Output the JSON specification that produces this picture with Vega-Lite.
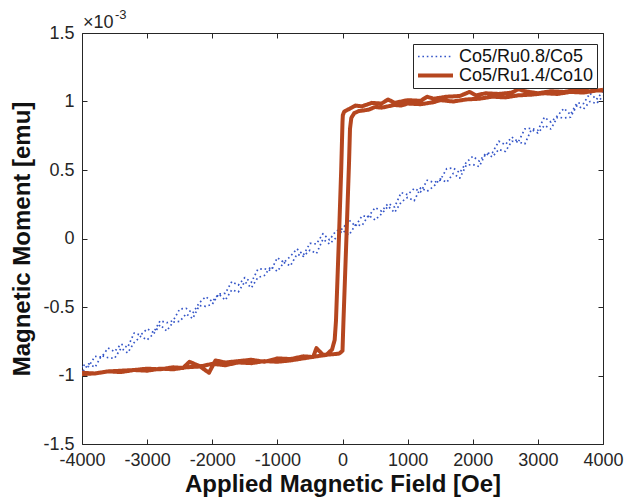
{
  "$schema": "https://vega.github.io/schema/vega-lite/v6.json",
  "width": 521,
  "height": 411,
  "autosize": "none",
  "padding": {"left": 82, "top": 33, "right": 33, "bottom": 56},
  "background": "white",
  "config": {
    "font": "Liberation Sans",
    "view": {"stroke": "#262626", "strokeWidth": 1},
    "axis": {"grid": false, "domain": false, "tickColor": "#262626", "tickSize": 5, "offset": -5, "tickWidth": 1, "labelFlush": false, "labelOverlap": false, "labelColor": "#262626", "labelFont": "Liberation Sans", "labelFontSize": 18, "titleFont": "Liberation Sans", "titleFontSize": 24, "titleFontWeight": "bold", "titleColor": "#111111"},
    "legend": {"orient": "none", "legendX": 331, "legendY": 11, "strokeColor": "#262626", "fillColor": "white", "padding": 3, "labelFontSize": 18, "labelColor": "#111111", "labelFont": "Liberation Sans", "labelOffset": 4, "symbolType": "stroke", "symbolSize": 1225, "clipHeight": 19, "rowPadding": 0}
  },
  "datasets": {
    "d": [
      {"s":"Co5/Ru0.8/Co5","x":4000,"y":1.075},{"s":"Co5/Ru0.8/Co5","x":3900,"y":1.015},{"s":"Co5/Ru0.8/Co5","x":3800,"y":1.06},{"s":"Co5/Ru0.8/Co5","x":3700,"y":0.985},{"s":"Co5/Ru0.8/Co5","x":3600,"y":0.99},{"s":"Co5/Ru0.8/Co5","x":3500,"y":0.905},{"s":"Co5/Ru0.8/Co5","x":3400,"y":0.95},{"s":"Co5/Ru0.8/Co5","x":3300,"y":0.895},{"s":"Co5/Ru0.8/Co5","x":3200,"y":0.85},{"s":"Co5/Ru0.8/Co5","x":3100,"y":0.885},{"s":"Co5/Ru0.8/Co5","x":3000,"y":0.79},{"s":"Co5/Ru0.8/Co5","x":2900,"y":0.805},{"s":"Co5/Ru0.8/Co5","x":2800,"y":0.8},{"s":"Co5/Ru0.8/Co5","x":2700,"y":0.705},{"s":"Co5/Ru0.8/Co5","x":2600,"y":0.74},{"s":"Co5/Ru0.8/Co5","x":2500,"y":0.685},{"s":"Co5/Ru0.8/Co5","x":2400,"y":0.71},{"s":"Co5/Ru0.8/Co5","x":2300,"y":0.625},{"s":"Co5/Ru0.8/Co5","x":2200,"y":0.62},{"s":"Co5/Ru0.8/Co5","x":2100,"y":0.565},{"s":"Co5/Ru0.8/Co5","x":2000,"y":0.6},{"s":"Co5/Ru0.8/Co5","x":1900,"y":0.555},{"s":"Co5/Ru0.8/Co5","x":1800,"y":0.48},{"s":"Co5/Ru0.8/Co5","x":1700,"y":0.515},{"s":"Co5/Ru0.8/Co5","x":1600,"y":0.51},{"s":"Co5/Ru0.8/Co5","x":1500,"y":0.425},{"s":"Co5/Ru0.8/Co5","x":1400,"y":0.41},{"s":"Co5/Ru0.8/Co5","x":1300,"y":0.425},{"s":"Co5/Ru0.8/Co5","x":1200,"y":0.34},{"s":"Co5/Ru0.8/Co5","x":1100,"y":0.365},{"s":"Co5/Ru0.8/Co5","x":1000,"y":0.32},{"s":"Co5/Ru0.8/Co5","x":900,"y":0.335},{"s":"Co5/Ru0.8/Co5","x":800,"y":0.23},{"s":"Co5/Ru0.8/Co5","x":700,"y":0.255},{"s":"Co5/Ru0.8/Co5","x":600,"y":0.2},{"s":"Co5/Ru0.8/Co5","x":500,"y":0.225},{"s":"Co5/Ru0.8/Co5","x":400,"y":0.16},{"s":"Co5/Ru0.8/Co5","x":300,"y":0.165},{"s":"Co5/Ru0.8/Co5","x":200,"y":0.09},{"s":"Co5/Ru0.8/Co5","x":100,"y":0.135},{"s":"Co5/Ru0.8/Co5","x":0,"y":0.07},{"s":"Co5/Ru0.8/Co5","x":-100,"y":0.055},{"s":"Co5/Ru0.8/Co5","x":-200,"y":-0.01},{"s":"Co5/Ru0.8/Co5","x":-300,"y":0.035},{"s":"Co5/Ru0.8/Co5","x":-400,"y":-0.04},{"s":"Co5/Ru0.8/Co5","x":-500,"y":-0.035},{"s":"Co5/Ru0.8/Co5","x":-600,"y":-0.12},{"s":"Co5/Ru0.8/Co5","x":-700,"y":-0.075},{"s":"Co5/Ru0.8/Co5","x":-800,"y":-0.13},{"s":"Co5/Ru0.8/Co5","x":-900,"y":-0.175},{"s":"Co5/Ru0.8/Co5","x":-1000,"y":-0.14},{"s":"Co5/Ru0.8/Co5","x":-1100,"y":-0.235},{"s":"Co5/Ru0.8/Co5","x":-1200,"y":-0.22},{"s":"Co5/Ru0.8/Co5","x":-1300,"y":-0.225},{"s":"Co5/Ru0.8/Co5","x":-1400,"y":-0.32},{"s":"Co5/Ru0.8/Co5","x":-1500,"y":-0.285},{"s":"Co5/Ru0.8/Co5","x":-1600,"y":-0.34},{"s":"Co5/Ru0.8/Co5","x":-1700,"y":-0.315},{"s":"Co5/Ru0.8/Co5","x":-1800,"y":-0.4},{"s":"Co5/Ru0.8/Co5","x":-1900,"y":-0.405},{"s":"Co5/Ru0.8/Co5","x":-2000,"y":-0.46},{"s":"Co5/Ru0.8/Co5","x":-2100,"y":-0.425},{"s":"Co5/Ru0.8/Co5","x":-2200,"y":-0.47},{"s":"Co5/Ru0.8/Co5","x":-2300,"y":-0.545},{"s":"Co5/Ru0.8/Co5","x":-2400,"y":-0.51},{"s":"Co5/Ru0.8/Co5","x":-2500,"y":-0.515},{"s":"Co5/Ru0.8/Co5","x":-2600,"y":-0.6},{"s":"Co5/Ru0.8/Co5","x":-2700,"y":-0.615},{"s":"Co5/Ru0.8/Co5","x":-2800,"y":-0.6},{"s":"Co5/Ru0.8/Co5","x":-2900,"y":-0.685},{"s":"Co5/Ru0.8/Co5","x":-3000,"y":-0.66},{"s":"Co5/Ru0.8/Co5","x":-3100,"y":-0.705},{"s":"Co5/Ru0.8/Co5","x":-3200,"y":-0.69},{"s":"Co5/Ru0.8/Co5","x":-3300,"y":-0.795},{"s":"Co5/Ru0.8/Co5","x":-3400,"y":-0.77},{"s":"Co5/Ru0.8/Co5","x":-3500,"y":-0.825},{"s":"Co5/Ru0.8/Co5","x":-3600,"y":-0.8},{"s":"Co5/Ru0.8/Co5","x":-3700,"y":-0.865},{"s":"Co5/Ru0.8/Co5","x":-3800,"y":-0.86},{"s":"Co5/Ru0.8/Co5","x":-3900,"y":-0.935},{"s":"Co5/Ru0.8/Co5","x":-4000,"y":-0.92},
      {"s":"Co5/Ru0.8/Co5","x":-4000,"y":-0.98},{"s":"Co5/Ru0.8/Co5","x":-3900,"y":-0.915},{"s":"Co5/Ru0.8/Co5","x":-3800,"y":-0.94},{"s":"Co5/Ru0.8/Co5","x":-3700,"y":-0.855},{"s":"Co5/Ru0.8/Co5","x":-3600,"y":-0.87},{"s":"Co5/Ru0.8/Co5","x":-3500,"y":-0.875},{"s":"Co5/Ru0.8/Co5","x":-3400,"y":-0.8},{"s":"Co5/Ru0.8/Co5","x":-3300,"y":-0.835},{"s":"Co5/Ru0.8/Co5","x":-3200,"y":-0.76},{"s":"Co5/Ru0.8/Co5","x":-3100,"y":-0.715},{"s":"Co5/Ru0.8/Co5","x":-3000,"y":-0.74},{"s":"Co5/Ru0.8/Co5","x":-2900,"y":-0.695},{"s":"Co5/Ru0.8/Co5","x":-2800,"y":-0.63},{"s":"Co5/Ru0.8/Co5","x":-2700,"y":-0.675},{"s":"Co5/Ru0.8/Co5","x":-2600,"y":-0.61},{"s":"Co5/Ru0.8/Co5","x":-2500,"y":-0.605},{"s":"Co5/Ru0.8/Co5","x":-2400,"y":-0.55},{"s":"Co5/Ru0.8/Co5","x":-2300,"y":-0.585},{"s":"Co5/Ru0.8/Co5","x":-2200,"y":-0.49},{"s":"Co5/Ru0.8/Co5","x":-2100,"y":-0.495},{"s":"Co5/Ru0.8/Co5","x":-2000,"y":-0.48},{"s":"Co5/Ru0.8/Co5","x":-1900,"y":-0.405},{"s":"Co5/Ru0.8/Co5","x":-1800,"y":-0.45},{"s":"Co5/Ru0.8/Co5","x":-1700,"y":-0.375},{"s":"Co5/Ru0.8/Co5","x":-1600,"y":-0.39},{"s":"Co5/Ru0.8/Co5","x":-1500,"y":-0.315},{"s":"Co5/Ru0.8/Co5","x":-1400,"y":-0.36},{"s":"Co5/Ru0.8/Co5","x":-1300,"y":-0.285},{"s":"Co5/Ru0.8/Co5","x":-1200,"y":-0.27},{"s":"Co5/Ru0.8/Co5","x":-1100,"y":-0.205},{"s":"Co5/Ru0.8/Co5","x":-1000,"y":-0.24},{"s":"Co5/Ru0.8/Co5","x":-900,"y":-0.175},{"s":"Co5/Ru0.8/Co5","x":-800,"y":-0.2},{"s":"Co5/Ru0.8/Co5","x":-700,"y":-0.115},{"s":"Co5/Ru0.8/Co5","x":-600,"y":-0.13},{"s":"Co5/Ru0.8/Co5","x":-500,"y":-0.085},{"s":"Co5/Ru0.8/Co5","x":-400,"y":-0.11},{"s":"Co5/Ru0.8/Co5","x":-300,"y":-0.005},{"s":"Co5/Ru0.8/Co5","x":-200,"y":-0.04},{"s":"Co5/Ru0.8/Co5","x":-100,"y":0.005},{"s":"Co5/Ru0.8/Co5","x":0,"y":0.06},{"s":"Co5/Ru0.8/Co5","x":100,"y":0.025},{"s":"Co5/Ru0.8/Co5","x":200,"y":0.1},{"s":"Co5/Ru0.8/Co5","x":300,"y":0.095},{"s":"Co5/Ru0.8/Co5","x":400,"y":0.17},{"s":"Co5/Ru0.8/Co5","x":500,"y":0.135},{"s":"Co5/Ru0.8/Co5","x":600,"y":0.18},{"s":"Co5/Ru0.8/Co5","x":700,"y":0.235},{"s":"Co5/Ru0.8/Co5","x":800,"y":0.19},{"s":"Co5/Ru0.8/Co5","x":900,"y":0.265},{"s":"Co5/Ru0.8/Co5","x":1000,"y":0.3},{"s":"Co5/Ru0.8/Co5","x":1100,"y":0.275},{"s":"Co5/Ru0.8/Co5","x":1200,"y":0.37},{"s":"Co5/Ru0.8/Co5","x":1300,"y":0.345},{"s":"Co5/Ru0.8/Co5","x":1400,"y":0.38},{"s":"Co5/Ru0.8/Co5","x":1500,"y":0.435},{"s":"Co5/Ru0.8/Co5","x":1600,"y":0.41},{"s":"Co5/Ru0.8/Co5","x":1700,"y":0.475},{"s":"Co5/Ru0.8/Co5","x":1800,"y":0.44},{"s":"Co5/Ru0.8/Co5","x":1900,"y":0.535},{"s":"Co5/Ru0.8/Co5","x":2000,"y":0.54},{"s":"Co5/Ru0.8/Co5","x":2100,"y":0.525},{"s":"Co5/Ru0.8/Co5","x":2200,"y":0.62},{"s":"Co5/Ru0.8/Co5","x":2300,"y":0.595},{"s":"Co5/Ru0.8/Co5","x":2400,"y":0.65},{"s":"Co5/Ru0.8/Co5","x":2500,"y":0.635},{"s":"Co5/Ru0.8/Co5","x":2600,"y":0.71},{"s":"Co5/Ru0.8/Co5","x":2700,"y":0.705},{"s":"Co5/Ru0.8/Co5","x":2800,"y":0.69},{"s":"Co5/Ru0.8/Co5","x":2900,"y":0.795},{"s":"Co5/Ru0.8/Co5","x":3000,"y":0.77},{"s":"Co5/Ru0.8/Co5","x":3100,"y":0.825},{"s":"Co5/Ru0.8/Co5","x":3200,"y":0.8},{"s":"Co5/Ru0.8/Co5","x":3300,"y":0.885},{"s":"Co5/Ru0.8/Co5","x":3400,"y":0.88},{"s":"Co5/Ru0.8/Co5","x":3500,"y":0.885},{"s":"Co5/Ru0.8/Co5","x":3600,"y":0.97},{"s":"Co5/Ru0.8/Co5","x":3700,"y":0.945},{"s":"Co5/Ru0.8/Co5","x":3800,"y":1.0},{"s":"Co5/Ru0.8/Co5","x":3900,"y":0.985},{"s":"Co5/Ru0.8/Co5","x":4000,"y":1.04},
      {"s":"Co5/Ru1.4/Co10","x":4000,"y":1.085},{"s":"Co5/Ru1.4/Co10","x":3800,"y":1.075},{"s":"Co5/Ru1.4/Co10","x":3600,"y":1.085},{"s":"Co5/Ru1.4/Co10","x":3400,"y":1.07},{"s":"Co5/Ru1.4/Co10","x":3200,"y":1.075},{"s":"Co5/Ru1.4/Co10","x":3000,"y":1.06},{"s":"Co5/Ru1.4/Co10","x":2800,"y":1.075},{"s":"Co5/Ru1.4/Co10","x":2700,"y":1.09},{"s":"Co5/Ru1.4/Co10","x":2600,"y":1.065},{"s":"Co5/Ru1.4/Co10","x":2400,"y":1.055},{"s":"Co5/Ru1.4/Co10","x":2200,"y":1.06},{"s":"Co5/Ru1.4/Co10","x":2050,"y":1.045},{"s":"Co5/Ru1.4/Co10","x":1950,"y":1.07},{"s":"Co5/Ru1.4/Co10","x":1800,"y":1.04},{"s":"Co5/Ru1.4/Co10","x":1600,"y":1.035},{"s":"Co5/Ru1.4/Co10","x":1400,"y":1.02},{"s":"Co5/Ru1.4/Co10","x":1300,"y":1.035},{"s":"Co5/Ru1.4/Co10","x":1200,"y":1.005},{"s":"Co5/Ru1.4/Co10","x":1000,"y":1.01},{"s":"Co5/Ru1.4/Co10","x":800,"y":0.99},{"s":"Co5/Ru1.4/Co10","x":700,"y":1.015},{"s":"Co5/Ru1.4/Co10","x":600,"y":0.985},{"s":"Co5/Ru1.4/Co10","x":450,"y":0.99},{"s":"Co5/Ru1.4/Co10","x":300,"y":0.965},{"s":"Co5/Ru1.4/Co10","x":200,"y":0.97},{"s":"Co5/Ru1.4/Co10","x":120,"y":0.95},{"s":"Co5/Ru1.4/Co10","x":60,"y":0.935},{"s":"Co5/Ru1.4/Co10","x":25,"y":0.925},{"s":"Co5/Ru1.4/Co10","x":5,"y":0.9},{"s":"Co5/Ru1.4/Co10","x":0,"y":0.85},{"s":"Co5/Ru1.4/Co10","x":-20,"y":0.5},{"s":"Co5/Ru1.4/Co10","x":-55,"y":0.0},{"s":"Co5/Ru1.4/Co10","x":-100,"y":-0.6},{"s":"Co5/Ru1.4/Co10","x":-120,"y":-0.74},{"s":"Co5/Ru1.4/Co10","x":-160,"y":-0.81},{"s":"Co5/Ru1.4/Co10","x":-250,"y":-0.85},{"s":"Co5/Ru1.4/Co10","x":-400,"y":-0.86},{"s":"Co5/Ru1.4/Co10","x":-600,"y":-0.875},{"s":"Co5/Ru1.4/Co10","x":-800,"y":-0.89},{"s":"Co5/Ru1.4/Co10","x":-1000,"y":-0.9},{"s":"Co5/Ru1.4/Co10","x":-1200,"y":-0.895},{"s":"Co5/Ru1.4/Co10","x":-1400,"y":-0.91},{"s":"Co5/Ru1.4/Co10","x":-1600,"y":-0.905},{"s":"Co5/Ru1.4/Co10","x":-1800,"y":-0.925},{"s":"Co5/Ru1.4/Co10","x":-2000,"y":-0.915},{"s":"Co5/Ru1.4/Co10","x":-2200,"y":-0.935},{"s":"Co5/Ru1.4/Co10","x":-2400,"y":-0.94},{"s":"Co5/Ru1.4/Co10","x":-2600,"y":-0.955},{"s":"Co5/Ru1.4/Co10","x":-2800,"y":-0.95},{"s":"Co5/Ru1.4/Co10","x":-3000,"y":-0.965},{"s":"Co5/Ru1.4/Co10","x":-3200,"y":-0.96},{"s":"Co5/Ru1.4/Co10","x":-3400,"y":-0.975},{"s":"Co5/Ru1.4/Co10","x":-3600,"y":-0.97},{"s":"Co5/Ru1.4/Co10","x":-3800,"y":-0.985},{"s":"Co5/Ru1.4/Co10","x":-4000,"y":-0.99},
      {"s":"Co5/Ru1.4/Co10","x":-4000,"y":-0.98},{"s":"Co5/Ru1.4/Co10","x":-3800,"y":-0.985},{"s":"Co5/Ru1.4/Co10","x":-3600,"y":-0.97},{"s":"Co5/Ru1.4/Co10","x":-3400,"y":-0.965},{"s":"Co5/Ru1.4/Co10","x":-3200,"y":-0.96},{"s":"Co5/Ru1.4/Co10","x":-3000,"y":-0.95},{"s":"Co5/Ru1.4/Co10","x":-2800,"y":-0.955},{"s":"Co5/Ru1.4/Co10","x":-2600,"y":-0.94},{"s":"Co5/Ru1.4/Co10","x":-2450,"y":-0.945},{"s":"Co5/Ru1.4/Co10","x":-2350,"y":-0.9},{"s":"Co5/Ru1.4/Co10","x":-2200,"y":-0.93},{"s":"Co5/Ru1.4/Co10","x":-2050,"y":-0.98},{"s":"Co5/Ru1.4/Co10","x":-1950,"y":-0.89},{"s":"Co5/Ru1.4/Co10","x":-1800,"y":-0.905},{"s":"Co5/Ru1.4/Co10","x":-1600,"y":-0.895},{"s":"Co5/Ru1.4/Co10","x":-1400,"y":-0.885},{"s":"Co5/Ru1.4/Co10","x":-1200,"y":-0.9},{"s":"Co5/Ru1.4/Co10","x":-1000,"y":-0.875},{"s":"Co5/Ru1.4/Co10","x":-800,"y":-0.88},{"s":"Co5/Ru1.4/Co10","x":-600,"y":-0.86},{"s":"Co5/Ru1.4/Co10","x":-450,"y":-0.865},{"s":"Co5/Ru1.4/Co10","x":-400,"y":-0.8},{"s":"Co5/Ru1.4/Co10","x":-300,"y":-0.85},{"s":"Co5/Ru1.4/Co10","x":-150,"y":-0.845},{"s":"Co5/Ru1.4/Co10","x":-50,"y":-0.84},{"s":"Co5/Ru1.4/Co10","x":0,"y":-0.82},{"s":"Co5/Ru1.4/Co10","x":8,"y":-0.7},{"s":"Co5/Ru1.4/Co10","x":15,"y":-0.6},{"s":"Co5/Ru1.4/Co10","x":60,"y":0.0},{"s":"Co5/Ru1.4/Co10","x":100,"y":0.55},{"s":"Co5/Ru1.4/Co10","x":115,"y":0.8},{"s":"Co5/Ru1.4/Co10","x":135,"y":0.88},{"s":"Co5/Ru1.4/Co10","x":180,"y":0.915},{"s":"Co5/Ru1.4/Co10","x":250,"y":0.93},{"s":"Co5/Ru1.4/Co10","x":400,"y":0.94},{"s":"Co5/Ru1.4/Co10","x":500,"y":0.96},{"s":"Co5/Ru1.4/Co10","x":600,"y":0.955},{"s":"Co5/Ru1.4/Co10","x":800,"y":0.975},{"s":"Co5/Ru1.4/Co10","x":900,"y":0.97},{"s":"Co5/Ru1.4/Co10","x":1000,"y":0.985},{"s":"Co5/Ru1.4/Co10","x":1200,"y":0.98},{"s":"Co5/Ru1.4/Co10","x":1400,"y":0.995},{"s":"Co5/Ru1.4/Co10","x":1500,"y":1.01},{"s":"Co5/Ru1.4/Co10","x":1700,"y":1.0},{"s":"Co5/Ru1.4/Co10","x":1900,"y":1.015},{"s":"Co5/Ru1.4/Co10","x":2100,"y":1.02},{"s":"Co5/Ru1.4/Co10","x":2300,"y":1.035},{"s":"Co5/Ru1.4/Co10","x":2500,"y":1.03},{"s":"Co5/Ru1.4/Co10","x":2700,"y":1.045},{"s":"Co5/Ru1.4/Co10","x":2900,"y":1.05},{"s":"Co5/Ru1.4/Co10","x":3100,"y":1.06},{"s":"Co5/Ru1.4/Co10","x":3300,"y":1.055},{"s":"Co5/Ru1.4/Co10","x":3500,"y":1.07},{"s":"Co5/Ru1.4/Co10","x":3700,"y":1.065},{"s":"Co5/Ru1.4/Co10","x":3900,"y":1.08},{"s":"Co5/Ru1.4/Co10","x":4000,"y":1.08}
    ]
  },
  "data": {"name": "d"},
  "layer": [
    {
      "mark": {"type": "line", "clip": true, "strokeCap": "butt", "strokeJoin": "round"},
      "encoding": {
        "x": {"field": "x", "type": "quantitative", "scale": {"domain": [-4000, 4000], "nice": false}, "axis": {"title": "Applied Magnetic Field [Oe]", "values": [-4000,-3000,-2000,-1000,0,1000,2000,3000,4000], "labelExpr": "datum.value + ''", "labelPadding": 7, "titlePadding": 3}},
        "y": {"field": "y", "type": "quantitative", "scale": {"domain": [-1.5, 1.5], "nice": false}, "axis": {"title": "Magnetic Moment [emu]", "values": [-1.5,-1,-0.5,0,0.5,1,1.5], "labelExpr": "datum.value + ''", "labelPadding": 8, "titlePadding": 8}},
        "color": {"field": "s", "type": "nominal", "title": null, "scale": {"domain": ["Co5/Ru0.8/Co5", "Co5/Ru1.4/Co10"], "range": ["#3556c8", "#b5461f"]}},
        "strokeDash": {"field": "s", "type": "nominal", "title": null, "scale": {"domain": ["Co5/Ru0.8/Co5", "Co5/Ru1.4/Co10"], "range": [[1.6, 2.8], [1, 0]]}},
        "strokeWidth": {"field": "s", "type": "nominal", "title": null, "scale": {"domain": ["Co5/Ru0.8/Co5", "Co5/Ru1.4/Co10"], "range": [1.7, 4]}},
        "order": {"value": null}
      }
    },
    {
      "mark": {"type": "point", "opacity": 0},
      "encoding": {
        "x": {"field": "x", "type": "quantitative", "axis": {"orient": "top", "labels": false, "title": null, "values": [-4000,-3000,-2000,-1000,0,1000,2000,3000,4000]}},
        "y": {"field": "y", "type": "quantitative", "axis": {"orient": "right", "labels": false, "title": null, "values": [-1.5,-1,-0.5,0,0.5,1,1.5]}}
      }
    },
    {
      "data": {"values": [{"t": "×10"}]},
      "mark": {"type": "text", "align": "left", "baseline": "alphabetic", "dx": 1, "dy": -5, "fontSize": 18, "color": "#262626"},
      "encoding": {
        "x": {"datum": -4000, "type": "quantitative", "axis": null},
        "y": {"datum": 1.5, "type": "quantitative", "axis": null},
        "text": {"field": "t"}
      }
    },
    {
      "data": {"values": [{"t": "-3"}]},
      "mark": {"type": "text", "align": "left", "baseline": "alphabetic", "dx": 33, "dy": -14, "fontSize": 13, "color": "#262626"},
      "encoding": {
        "x": {"datum": -4000, "type": "quantitative", "axis": null},
        "y": {"datum": 1.5, "type": "quantitative", "axis": null},
        "text": {"field": "t"}
      }
    }
  ],
  "resolve": {"axis": {"x": "independent", "y": "independent"}}
}
